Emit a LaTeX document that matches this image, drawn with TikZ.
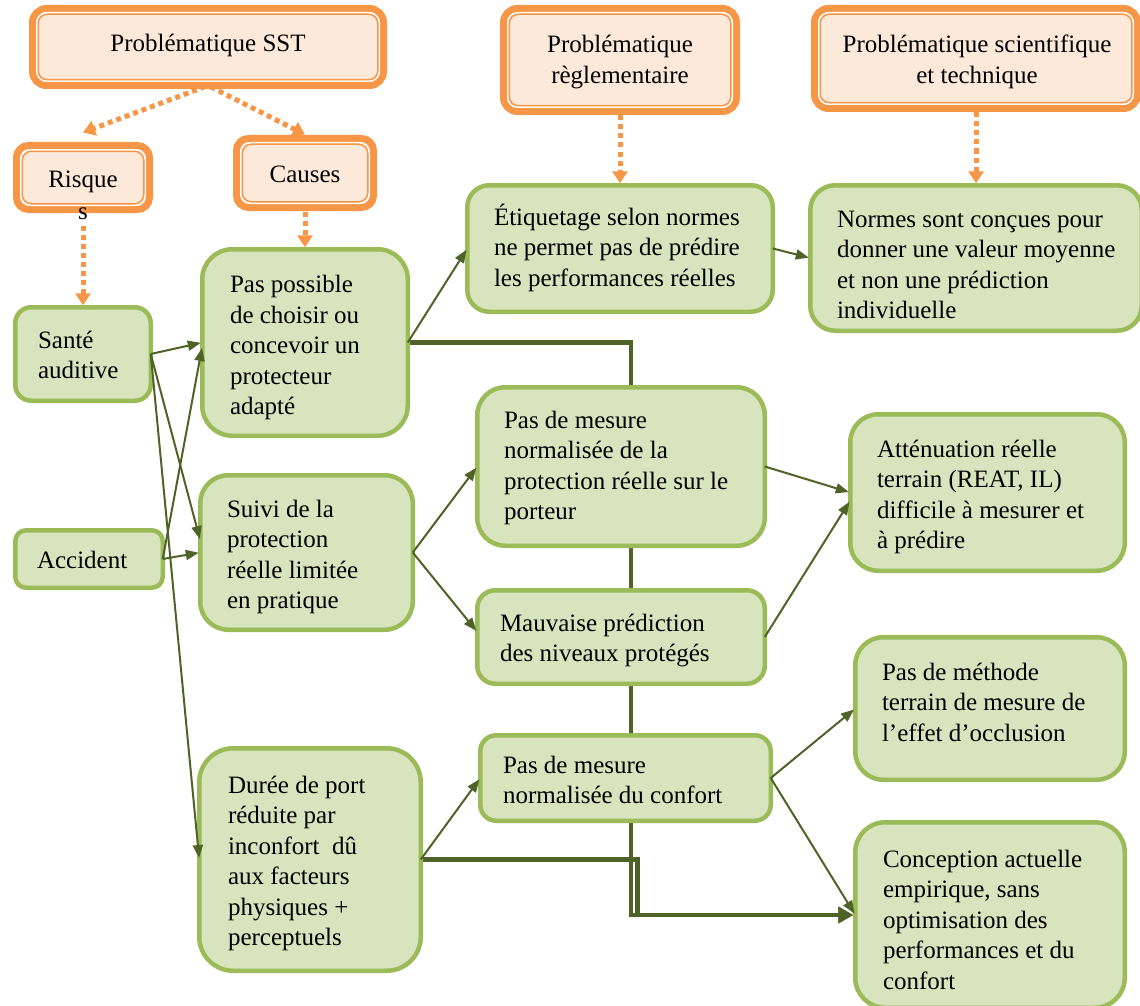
\documentclass[tikz,border=0pt]{standalone}
\usepackage{fontspec}
\setmainfont{Liberation Serif}
\usetikzlibrary{arrows.meta,calc,backgrounds}
\definecolor{gfill}{HTML}{D7E4BD}
\definecolor{gline}{HTML}{9BBB59}
\definecolor{ofill}{HTML}{FDE9D9}
\definecolor{oline}{HTML}{F79646}
\definecolor{darkol}{HTML}{4F6228}
\newcommand\mytopstrut{\rule{0pt}{24pt}}
\tikzset{
 gbox/.style={rectangle, fill=gfill, draw=gline, line width=4.5pt, inner sep=0pt, outer sep=0pt},
 obox/.style={rectangle, fill=ofill, draw=oline, line width=7pt, inner sep=0pt, outer sep=0pt, rounded corners=14pt},
 oinA/.style={draw=white, line width=1.5pt, rounded corners=10pt},
 oinB/.style={draw=oline, line width=1.5pt, rounded corners=9pt},
 txt/.style={anchor=north west, inner sep=0pt, outer sep=0pt, align=left, font=\fontsize{25pt}{30.5pt}\selectfont},
 otxt/.style={inner sep=0pt, outer sep=0pt, align=center, font=\fontsize{25pt}{30.5pt}\selectfont},
 odot/.style={draw=oline, line width=5pt, dash pattern=on 5pt off 4pt, -{Triangle[length=12pt,width=15pt]}},
 thinarr/.style={draw=darkol, line width=2pt, -{Triangle[length=13pt,width=10pt]}, shorten >=1.5pt},
 thickarr/.style={draw=darkol, line width=4.5pt, -{Triangle[length=15pt,width=16pt]}, shorten >=2pt},
}
\begin{document}
\begin{tikzpicture}[x=1pt,y=-1pt]
\useasboundingbox (0,0) rectangle (1140,1006);
\clip (0,0) rectangle (1140,1006);

% orange boxes
\node[obox, minimum width=351pt, minimum height=77pt] (sst) at (208,47) {};
\node[obox, rounded corners=12pt, minimum width=133pt, minimum height=64pt] (risque) at (83,177.5) {};
\node[obox, rounded corners=12pt, minimum width=137pt, minimum height=69pt] (causes) at (305,173) {};
\node[obox, minimum width=233pt, minimum height=103pt] (regl) at (620,60) {};
\node[obox, minimum width=323pt, minimum height=100pt] (sci) at (976,58.5) {};
\foreach \n in {sst,risque,causes,regl,sci}{
  \draw[oinA] ($(\n.north west)+(4.25,4.25)$) rectangle ($(\n.south east)+(-4.25,-4.25)$);
  \draw[oinB] ($(\n.north west)+(5.75,5.75)$) rectangle ($(\n.south east)+(-5.75,-5.75)$);
}

% green boxes
\node[gbox, rounded corners=16pt, minimum width=135.5pt, minimum height=93.5pt] (sante) at (83,354) {};
\node[gbox, rounded corners=11pt, minimum width=147.5pt, minimum height=57.5pt] (accident) at (89,559) {};
\node[gbox, rounded corners=30pt, minimum width=205.5pt, minimum height=186.5pt] (possible) at (305,342.5) {};
\node[gbox, rounded corners=28pt, minimum width=212.5pt, minimum height=154.5pt] (suivi) at (306.5,552.5) {};
\node[gbox, rounded corners=34pt, minimum width=221.5pt, minimum height=222.5pt] (duree) at (310,859.5) {};
\node[gbox, rounded corners=22pt, minimum width=305.5pt, minimum height=126.5pt] (etiq) at (620,248.5) {};
\node[gbox, rounded corners=25pt, minimum width=331.5pt, minimum height=145.5pt] (normes) at (976,258) {};
\node[gbox, rounded corners=28pt, minimum width=287.5pt, minimum height=158.5pt] (protec) at (621,466.5) {};
\node[gbox, rounded corners=18pt, minimum width=287.5pt, minimum height=93.5pt] (mauvaise) at (621,637) {};
\node[gbox, rounded corners=16pt, minimum width=290.5pt, minimum height=85.5pt] (confort) at (625.5,778) {};
\node[gbox, rounded corners=28pt, minimum width=274.5pt, minimum height=156.5pt] (atten) at (987.5,492.5) {};
\node[gbox, rounded corners=28pt, minimum width=269.5pt, minimum height=142.5pt] (methode) at (990,708.5) {};
\node[gbox, rounded corners=30pt, minimum width=269.5pt, minimum height=185.5pt] (conception) at (990,915) {};

% thick connectors behind the boxes
\coordinate (j1) at (631,915);
\coordinate (j2) at (637.5,915);
\begin{scope}[on background layer]
\draw[thickarr] (possible.east) -| (j1) -- (conception.west);
\draw[thickarr] (duree.east) -| (j2) -- (conception.west);
\end{scope}

% thin connectors
\draw[thinarr] (sante.east) -- (possible.west);
\draw[thinarr] (sante.east) -- ([yshift=12pt]suivi.west);
\draw[thinarr] (sante.east) -- (duree.west);
\draw[thinarr] (accident.east) -- ([yshift=-4pt]possible.west);
\draw[thinarr] (accident.east) -- (suivi.west);
\draw[thinarr] (possible.east) -- (etiq.west);
\draw[thinarr] (etiq.east) -- (normes.west);
\draw[thinarr] (suivi.east) -- (protec.west);
\draw[thinarr] (suivi.east) -- ([yshift=5pt]mauvaise.west);
\draw[thinarr] (protec.east) -- (atten.west);
\draw[thinarr] (mauvaise.east) -- ([yshift=-8pt]atten.west);
\draw[thinarr] (duree.east) -- (confort.west);
\draw[thinarr] (confort.east) -- (methode.west);
\draw[thinarr] (confort.east) -- (conception.west);

% dotted orange connectors
\draw[odot, shorten <=3pt] (sst.south) -- ([yshift=13pt]risque.north);
\draw[odot, shorten <=3pt] (sst.south) -- ([yshift=4pt]causes.north);
\draw[odot, shorten <=16pt, shorten >=2pt] (risque.south) -- (sante.north);
\draw[odot, shorten <=4pt, shorten >=2pt] (causes.south) -- (possible.north);
\draw[odot, shorten <=4pt, shorten >=2pt] (regl.south) -- (etiq.north);
\draw[odot, shorten <=4pt, shorten >=2pt] (sci.south) -- (normes.north);

% orange texts
\node[otxt, anchor=base] (t-sst) at (208,52) {Problématique SST};
\node[otxt, anchor=base] (t-risque) at (83,187) {Risque};
\node[otxt, anchor=base] (t-s) at (83,219) {s};
\node[otxt, anchor=base] (t-causes) at (305,182) {Causes};
\node[otxt, anchor=north] (t-regl) at (620,29) {\mytopstrut Problématique\\règlementaire};
\node[otxt, anchor=north] (t-sci) at (977,29) {\mytopstrut Problématique scientifique\\et technique};

% green texts
\node[txt] (t-sante) at (38,324) {\mytopstrut Santé\\auditive};
\node[txt] (t-accident) at (37,544) {\mytopstrut Accident};
\node[txt] (t-possible) at (230,268.5) {\mytopstrut Pas possible\\de choisir ou\\concevoir un\\protecteur\\adapté};
\node[txt] (t-suivi) at (227,493) {\mytopstrut Suivi de la\\protection\\réelle limitée\\en pratique};
\node[txt] (t-duree) at (228,769) {\mytopstrut Durée de port\\réduite par\\inconfort~ dû\\aux facteurs\\physiques +\\perceptuels};
\node[txt] (t-etiq) at (494,201) {\mytopstrut Étiquetage selon normes\\ne permet pas de prédire\\les performances réelles};
\node[txt] (t-normes) at (837,203) {\mytopstrut Normes sont conçues pour\\donner une valeur moyenne\\et non une prédiction\\individuelle};
\node[txt] (t-protec) at (504,404) {\mytopstrut Pas de mesure\\normalisée de la\\protection réelle sur le\\porteur};
\node[txt] (t-mauvaise) at (500,607) {\mytopstrut Mauvaise prédiction\\des niveaux protégés};
\node[txt] (t-confort) at (503,749) {\mytopstrut Pas de mesure\\normalisée du confort};
\node[txt] (t-atten) at (877,433) {\mytopstrut Atténuation réelle\\terrain (REAT, IL)\\difficile à mesurer et\\à prédire};
\node[txt] (t-methode) at (882,656) {\mytopstrut Pas de méthode\\terrain de mesure de\\l’effet d’occlusion};
\node[txt] (t-conception) at (883,843) {\mytopstrut Conception actuelle\\empirique, sans\\optimisation des\\performances et du\\confort};
\end{tikzpicture}
\end{document}
